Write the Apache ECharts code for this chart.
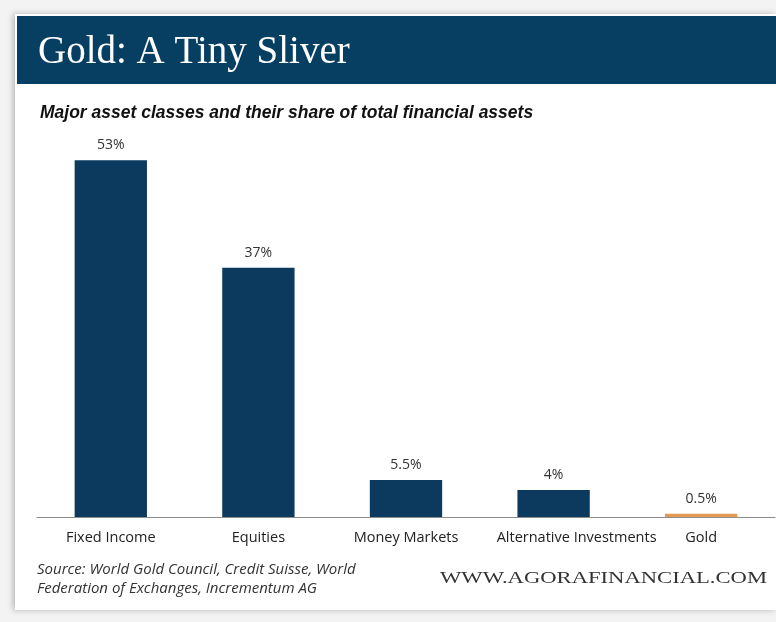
<!DOCTYPE html>
<html>
<head>
<meta charset="utf-8">
<script src="https://cdn.jsdelivr.net/npm/echarts@6/dist/echarts.min.js"></script>
<style>
  html, body { margin: 0; padding: 0; background: #f3f3f3; }
  #chart { width: 776px; height: 622px; }
</style>
</head>
<body>
<div id="chart"></div>
<script>
// Share of total financial assets by asset class (percent)
const categories = ['Fixed Income', 'Equities', 'Money Markets', 'Alternative Investments', 'Gold'];
const shares = [53, 37, 5.5, 4, 0.5];
const shareLabels = ['53%', '37%', '5.5%', '4%', '0.5%'];

const NAVY = '#0b3a5e';
const GOLD = '#e49a52';

const chart = echarts.init(document.getElementById('chart'), null, { renderer: 'canvas' });

chart.setOption({
  backgroundColor: '#f3f3f3',
  animation: false,
  graphic: [
    // white card with a soft left edge
    { type: 'rect', z: -10, shape: { x: 15, y: 14, width: 761, height: 596 },
      style: { fill: '#ffffff', shadowBlur: 6, shadowColor: 'rgba(0,0,0,0.25)', shadowOffsetX: -2 } },
    // heading banner
    { type: 'rect', z: -5, shape: { x: 17, y: 16, width: 759, height: 68 },
      style: { fill: '#073f63' } },
    { type: 'text', left: 38, top: 33,
      style: { text: 'Gold: A Tiny Sliver', fill: '#ffffff',
               font: '39px "Liberation Serif", "DejaVu Serif", serif' } },
    { type: 'text', left: 40, top: 104,
      style: { text: 'Major asset classes and their share of total financial assets', fill: '#111111',
               font: 'italic bold 17.5px "Liberation Sans", Arial, sans-serif' } },
    { type: 'text', left: 37, top: 560,
      style: { text: 'Source: World Gold Council, Credit Suisse, World\nFederation of Exchanges, Incrementum AG',
               fill: '#333333', lineHeight: 19,
               font: 'italic 15px "Open Sans", "Liberation Sans", sans-serif' } },
    { type: 'text', x: 440, y: 570, scaleX: 1.33,
      style: { text: 'WWW.AGORAFINANCIAL.COM', fill: '#333333',
               font: '17px "Liberation Serif", "DejaVu Serif", serif' } }
  ],
  grid: { left: 37, right: 1, top: 113, bottom: 105 },
  xAxis: {
    type: 'category',
    data: categories.map(c => c === 'Alternative Investments'
      ? { value: c, textStyle: { padding: [0, 0, 0, 46] } }
      : c),
    axisLine: { lineStyle: { color: '#8c8c8c', width: 1 } },
    axisTick: { show: false },
    axisLabel: { color: '#222222', fontSize: 14.5, margin: 13, interval: 0, hideOverlap: false,
                 fontFamily: '"Open Sans", "Liberation Sans", sans-serif' }
  },
  yAxis: {
    type: 'value', min: 0, max: 60, show: false,
    splitLine: { show: false }
  },
  series: [{
    type: 'bar',
    data: shares.map((v, i) => ({
      value: v,
      itemStyle: { color: categories[i] === 'Gold' ? GOLD : NAVY }
    })),
    barCategoryGap: '51%',
    label: {
      show: true, position: 'top', distance: 8,
      color: '#333333', fontSize: 14,
      fontFamily: '"Open Sans", "Liberation Sans", sans-serif',
      formatter: p => shareLabels[p.dataIndex]
    }
  }]
});
</script>
</body>
</html>
